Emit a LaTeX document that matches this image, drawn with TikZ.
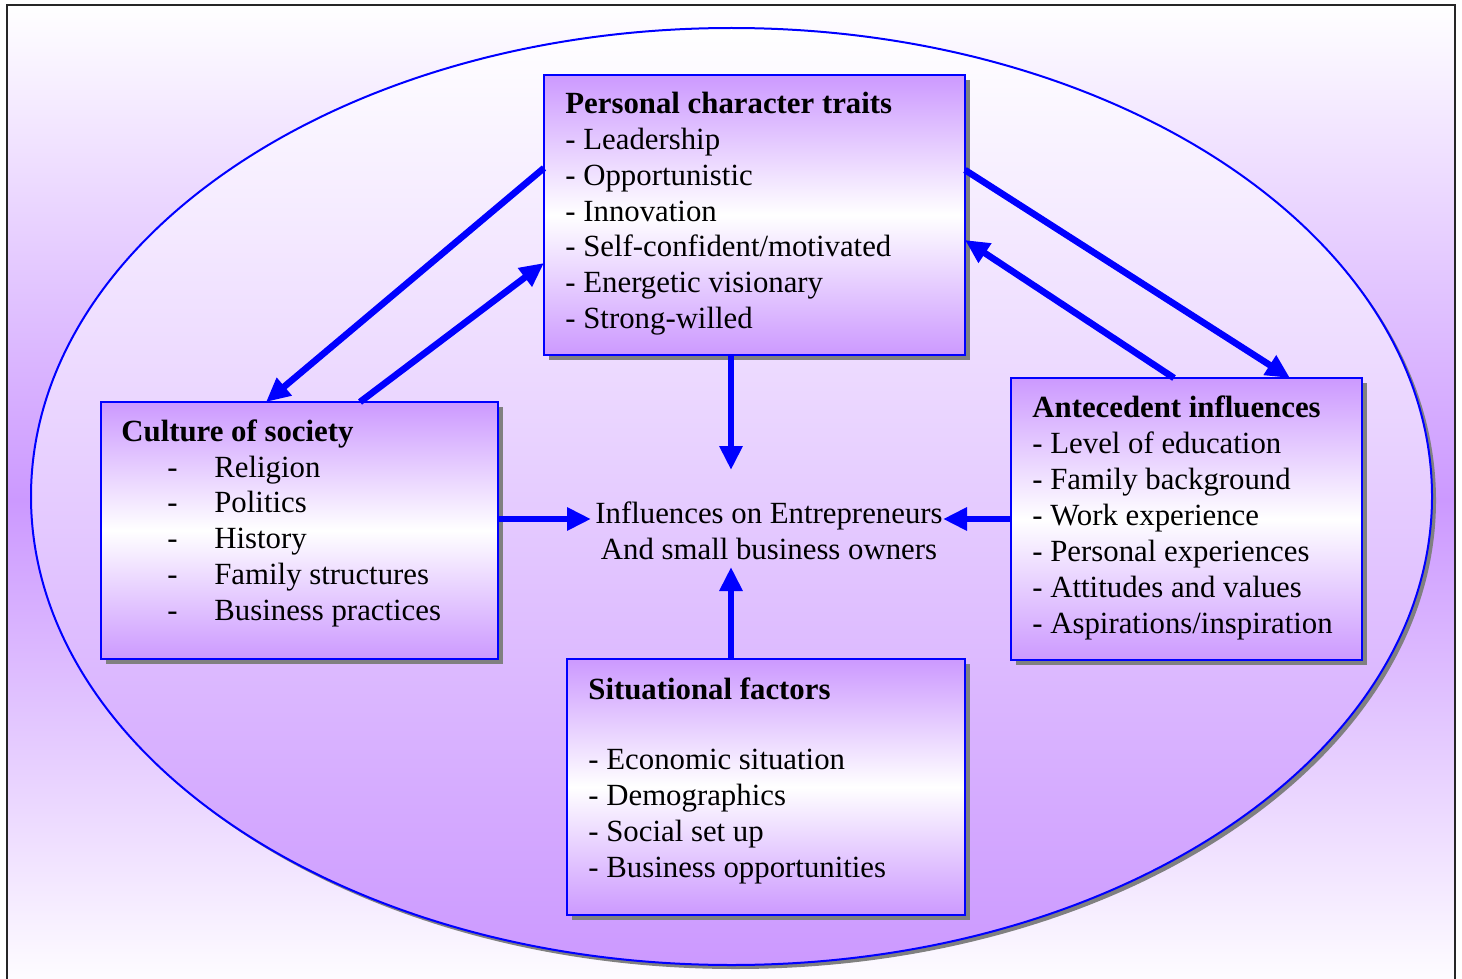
\documentclass[tikz,border=0pt]{standalone}
\usepackage{fontspec}
\setmainfont{Liberation Serif}
\usetikzlibrary{arrows.meta,shadows}
\definecolor{lav}{HTML}{CC99FF}
\definecolor{edgeblue}{HTML}{0000FF}

\begin{document}
\begin{tikzpicture}[x=0.5pt,y=-0.5pt,
  every node/.style={font=\fontsize{15.4}{18}\selectfont},
  card/.style={draw=edgeblue, line width=1pt, top color=lav, bottom color=lav,
    middle color=white, inner sep=0pt, outer sep=0pt,
    drop shadow={shadow xshift=2.5pt, shadow yshift=-2.5pt, fill=gray, opacity=1}},
  ttl/.style={anchor=base west, inner sep=0pt, font=\fontsize{15.4}{18}\selectfont\bfseries},
  itm/.style={anchor=base west, inner sep=0pt},
  flow/.style={draw=edgeblue, line width=3.3pt, -{Triangle[length=12pt,width=11pt]}}
]
\useasboundingbox (0,0) rectangle (1462,979);

% page background and frame
\shade[top color=white, bottom color=white, middle color=lav] (7,5) rectangle (1455,995);
\draw[line width=1pt, black!85] (7,5) rectangle (1455,995);

% large ellipse with its shadow
\fill[gray] (735.5,500.5) ellipse [x radius=700.5, y radius=468.5];
\shadedraw[top color=white, bottom color=lav, draw=edgeblue, line width=1pt]
  (731.5,496.5) ellipse [x radius=700.5, y radius=468.5];

% the four factor boxes
\node[card, minimum width=210.5pt, minimum height=140pt] (pct) at (754.5,215) {};
\node[card, minimum width=198.5pt, minimum height=128.5pt] (cul) at (299.5,530.5) {};
\node[card, minimum width=175.5pt, minimum height=141pt] (ant) at (1186.5,519) {};
\node[card, minimum width=199pt, minimum height=128pt] (sit) at (766,787) {};

% personal character traits
\node[ttl] (pct-t) at (565,114) {Personal character traits};
\foreach \s [count=\i] in {Leadership,Opportunistic,Innovation,Self-confident/motivated,Energetic visionary,Strong-willed}
  \node[itm] (pct-\i) at (565,114+35.7*\i) {- \s};

% culture of society
\node[ttl] (cul-t) at (121,441.5) {Culture of society};
\foreach \s [count=\i] in {Religion,Politics,History,Family structures,Business practices}
  \node[itm] (cul-\i) at (167,441.5+35.7*\i) {\makebox[23.5pt][l]{-}\s};

% antecedent influences
\node[ttl] (ant-t) at (1032,417) {Antecedent influences};
\foreach \s [count=\i] in {Level of education,Family background,Work experience,Personal experiences,Attitudes and values,Aspirations/inspiration}
  \node[itm] (ant-\i) at (1032,417+36*\i) {- \s};

% situational factors
\node[ttl] (sit-t) at (588,699) {Situational factors};
\foreach \s [count=\i] in {Economic situation,Demographics,Social set up,Business opportunities}
  \node[itm] (sit-\i) at (588,733+36*\i) {- \s};

% centre (base anchor sits on the last line)
\node[anchor=base, align=center, inner sep=0pt] (ctr) at (769,559)
  {Influences on Entrepreneurs\\And small business owners};

\coordinate (tipN) at (731,470);
\coordinate (tipW) at (591,519);
\coordinate (tipE) at (943,519);
\coordinate (tipS) at (731,567);

% connectors
\draw[flow] ([yshift=-46.5pt]pct.north west) -- ([xshift=82.5pt]cul.north west);
\draw[flow] ([xshift=129.5pt]cul.north west) -- ([yshift=-94pt]pct.north west);
\draw[flow] ([yshift=-47.5pt]pct.north east) -- ([xshift=139.5pt]ant.north west);
\draw[flow] ([xshift=81.5pt]ant.north west) -- ([yshift=-82.5pt]pct.north east);
\draw[flow] (pct.south -| tipN) -- (tipN);
\draw[flow] (cul.east |- tipW) -- (tipW);
\draw[flow] (ant.west |- tipE) -- (tipE);
\draw[flow] (sit.north -| tipS) -- (tipS);
\end{tikzpicture}
\end{document}
